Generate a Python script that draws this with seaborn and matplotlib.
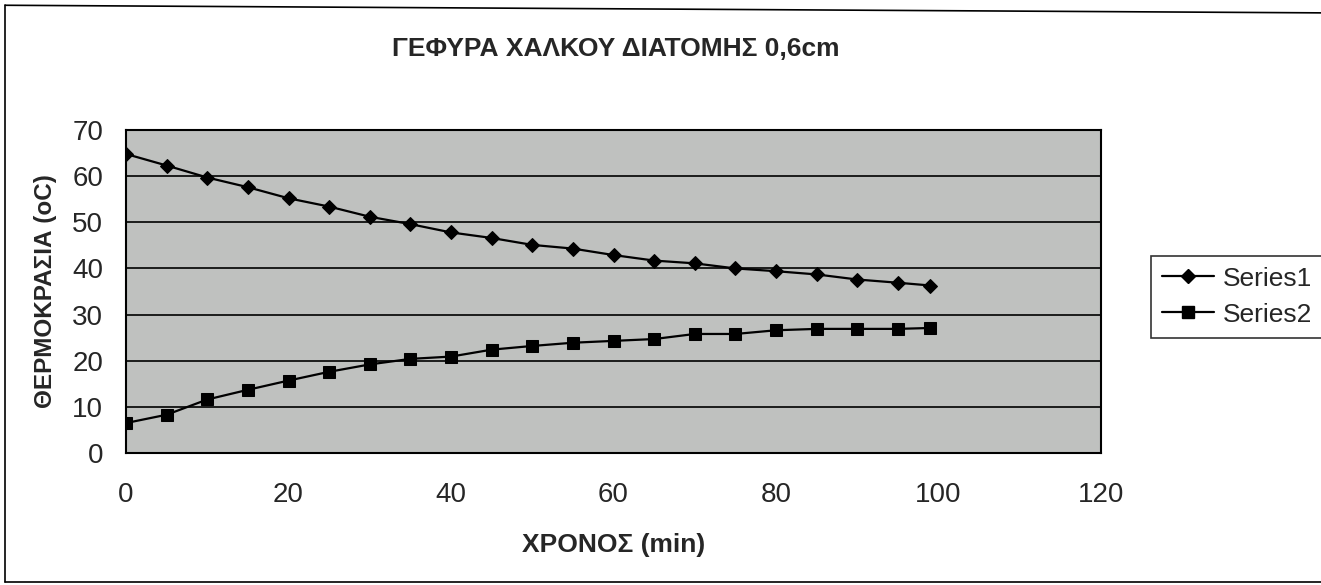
import matplotlib
matplotlib.use("Agg")
import matplotlib.pyplot as plt
import seaborn as sns
import pandas as pd
from matplotlib.lines import Line2D

time_min = [0, 5, 10, 15, 20, 25, 30, 35, 40, 45, 50, 55, 60, 65, 70, 75, 80, 85, 90, 95, 99]
series1 = [64.8, 62.3, 59.7, 57.6, 55.2, 53.4, 51.2, 49.6, 47.8, 46.6, 45.1, 44.3, 42.9, 41.7,
           41.1, 40.0, 39.4, 38.7, 37.6, 36.9, 36.3]
series2 = [6.5, 8.3, 11.6, 13.7, 15.7, 17.6, 19.2, 20.4, 20.9, 22.4, 23.2, 23.9, 24.3, 24.7,
           25.8, 25.8, 26.6, 26.9, 26.9, 26.9, 27.1]

title = "ΓΕΦΥΡΑ ΧΑΛΚΟΥ ΔΙΑΤΟΜΗΣ 0,6cm"
xlabel = "ΧΡΟΝΟΣ (min)"
ylabel = "ΘΕΡΜΟΚΡΑΣΙΑ (oC)"
names = ["Series1", "Series2"]

sns.set_style("white")
plt.rcParams["font.family"] = ["Liberation Sans", "DejaVu Sans"]

df = pd.DataFrame({"t": time_min * 2,
                   "v": series1 + series2,
                   "s": [names[0]] * len(time_min) + [names[1]] * len(time_min)})

fig = plt.figure(figsize=(13.21, 5.85), dpi=100)
ax = fig.add_axes([0.0954, 0.2256, 0.7381, 0.5522])
ax.set_facecolor("#bfc1bf")

sns.lineplot(data=df, x="t", y="v", style="s", markers={"Series1": "D", "Series2": "s"},
             dashes=False, color="black", linewidth=1.6, markersize=8, ax=ax,
             markeredgecolor="black", legend=False)
for ln, ms in zip(ax.lines, [6.8, 8.5]):
    ln.set_markersize(ms)

ax.set_xlim(0, 120)
ax.set_ylim(0, 70)
ax.set_xticks(range(0, 121, 20))
ax.set_yticks(range(0, 71, 10))
ax.yaxis.grid(True, color="black", linewidth=1.2)
ax.xaxis.grid(False)
ax.set_axisbelow(True)
for sp in ax.spines.values():
    sp.set_color("black")
    sp.set_linewidth(1.5)
ax.tick_params(axis="y", direction="inout", length=9, width=1.2, labelsize=20, pad=12)
ax.tick_params(axis="x", direction="out", length=7, width=1.2, labelsize=20, pad=14)

ax.set_xlabel(xlabel, fontsize=19, fontweight="bold", labelpad=18)
ax.set_ylabel(ylabel, fontsize=17.5, fontweight="bold", labelpad=11)
fig.text(0.466, 0.917, title, fontsize=19, fontweight="bold", ha="center", va="center")

handles = [Line2D([], [], color="black", lw=1.6, marker="D", markersize=6.8),
           Line2D([], [], color="black", lw=1.6, marker="s", markersize=8.5)]
leg = fig.legend(handles, names, loc="center left", bbox_to_anchor=(0.871, 0.493),
                 fontsize=19, frameon=True, fancybox=False, handlelength=2.0,
                 borderpad=0.42, labelspacing=0.45, handletextpad=0.3, borderaxespad=0)
leg.get_frame().set_edgecolor("black")
leg.get_frame().set_linewidth(1.2)

# outer chart-area border (left, top, bottom; right edge lies beyond the scan)
for xs, ys in [([0.004, 0.004], [0.005, 0.991]),
               ([0.004, 1.0], [0.991, 0.978]),
               ([0.004, 1.0], [0.005, 0.005])]:
    fig.add_artist(Line2D(xs, ys, transform=fig.transFigure, color="black", linewidth=1.2))

fig.savefig("out.png", dpi=100)
